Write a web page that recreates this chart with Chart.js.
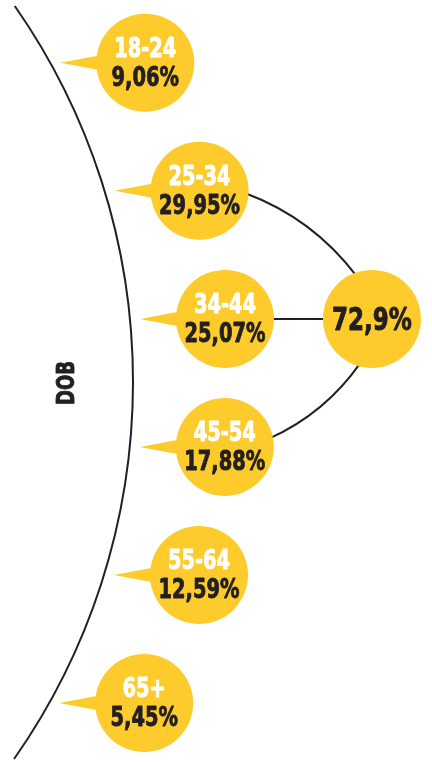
<!DOCTYPE html>
<html>
<head>
<meta charset="utf-8">
<script src="https://cdn.jsdelivr.net/npm/chart.js@4"></script>
<style>
  html, body { margin: 0; padding: 0; background: #fff; }
  #wrap { width: 432px; height: 762px; }
</style>
</head>
<body>
<div id="wrap"><canvas id="chart_dob" width="432" height="762"></canvas></div>
<script>
var age_groups = ['18-24', '25-34', '34-44', '45-54', '55-64', '65+'];
var shares = [9.06, 29.95, 25.07, 17.88, 12.59, 5.45];
var grouped = ['25-34', '34-44', '45-54'];
var axis_title = 'DOB';

var yellow = '#fdcc2c';
var ink = '#231f20';
var font_family = "'DejaVu Sans Condensed', 'DejaVu Sans', sans-serif";
var squeeze = 0.8;   // the original face is a narrow one
var bubble_r = 49;
var y_min = -0.49, y_max = 5.46;
var W = 432, H = 762;
// the big left arc, in pixels
var big_arc = { cx: -524, cy: 382, r: 657 };
var indent = 95;

function fmt(v) {
  return parseFloat(v.toFixed(2)).toString().replace('.', ',') + '%';
}

function arc_x(py) {
  var dy = py - big_arc.cy;
  return big_arc.cx + Math.sqrt(big_arc.r * big_arc.r - dy * dy);
}

function index_to_px(i) {
  return (i - y_min) / (y_max - y_min) * H;
}

var points = age_groups.map(function (g, i) {
  return { x: arc_x(index_to_px(i)) + indent, y: i, r: bubble_r };
});

var group_idx = grouped.map(function (g) { return age_groups.indexOf(g); });
var total = 0;
group_idx.forEach(function (i) { total += shares[i]; });
var mid = group_idx[1];
var total_point = { x: points[mid].x + 147, y: mid, r: bubble_r };

function bezier(ctx, p0, p2, sag, sign) {
  var dx = p2.x - p0.x, dy = p2.y - p0.y;
  var len = Math.sqrt(dx * dx + dy * dy);
  var nx = sign * dy / len, ny = -sign * dx / len;
  var cx = (p0.x + p2.x) / 2 + 2 * sag * nx;
  var cy = (p0.y + p2.y) / 2 + 2 * sag * ny;
  ctx.beginPath();
  ctx.moveTo(p0.x, p0.y);
  ctx.quadraticCurveTo(cx, cy, p2.x, p2.y);
  ctx.stroke();
}

function on_circle(el, deg, r) {
  var a = deg * Math.PI / 180;
  return { x: el.x + r * Math.cos(a), y: el.y + r * Math.sin(a) };
}

// squeezed and slightly heavier text, closer to the condensed black face
function narrow_text(ctx, txt, x, y) {
  ctx.save();
  ctx.translate(x, y);
  ctx.scale(squeeze, 1);
  ctx.strokeStyle = ctx.fillStyle;
  ctx.lineWidth = 0.9;
  ctx.lineJoin = 'round';
  ctx.fillText(txt, 0, 0);
  ctx.strokeText(txt, 0, 0);
  ctx.restore();
}

var decor = {
  id: 'decor',
  beforeDatasetsDraw: function (chart) {
    var ctx = chart.ctx;
    var els = chart.getDatasetMeta(0).data;
    var tot = chart.getDatasetMeta(1).data[0];
    ctx.save();
    ctx.strokeStyle = ink;
    ctx.lineWidth = 2;

    // big arc on the left
    var a0 = Math.asin((6 - big_arc.cy) / big_arc.r);
    var a1 = Math.asin((759 - big_arc.cy) / big_arc.r);
    ctx.beginPath();
    ctx.arc(big_arc.cx, big_arc.cy, big_arc.r, a0, a1, false);
    ctx.stroke();

    // connectors to the total bubble
    var r_in = bubble_r - 3;
    bezier(ctx, on_circle(els[group_idx[0]], 3, r_in), on_circle(tot, -110, r_in), 10, 1);
    ctx.beginPath();
    ctx.moveTo(els[group_idx[1]].x + r_in, els[group_idx[1]].y);
    ctx.lineTo(tot.x - r_in, tot.y);
    ctx.stroke();
    bezier(ctx, on_circle(els[group_idx[2]], -11, r_in), on_circle(tot, 105, r_in), 8, -1);

    // speech bubble tails
    ctx.fillStyle = yellow;
    els.forEach(function (el) {
      var r = bubble_r;
      ctx.beginPath();
      ctx.moveTo(el.x - r - 36, el.y);
      ctx.lineTo(el.x - r + 12, el.y - 9);
      ctx.lineTo(el.x - r + 12, el.y + 9);
      ctx.closePath();
      ctx.fill();
    });
    ctx.restore();
  },
  afterDatasetsDraw: function (chart) {
    var ctx = chart.ctx;
    var els = chart.getDatasetMeta(0).data;
    var tot = chart.getDatasetMeta(1).data[0];
    ctx.save();
    ctx.textAlign = 'center';
    ctx.textBaseline = 'alphabetic';
    els.forEach(function (el, i) {
      ctx.font = 'bold 27px ' + font_family;
      ctx.fillStyle = '#ffffff';
      narrow_text(ctx, age_groups[i], el.x, el.y - 6);
      ctx.fillStyle = ink;
      narrow_text(ctx, fmt(shares[i]), el.x, el.y + 23);
    });
    ctx.font = 'bold 32px ' + font_family;
    ctx.fillStyle = ink;
    narrow_text(ctx, fmt(total), tot.x, tot.y + 11);

    // vertical axis title
    ctx.translate(67, 383);
    ctx.rotate(-Math.PI / 2);
    ctx.textBaseline = 'middle';
    ctx.font = 'bold 25px ' + font_family;
    narrow_text(ctx, axis_title, 0, 0);
    ctx.restore();
  }
};

var ctx = document.getElementById('chart_dob').getContext('2d');
var chart = new Chart(ctx, {
  type: 'bubble',
  data: {
    datasets: [{
      label: 'Share by age',
      data: points,
      backgroundColor: yellow,
      borderWidth: 0,
      hoverRadius: 0
    }, {
      label: 'Total',
      data: [total_point],
      backgroundColor: yellow,
      borderWidth: 0,
      hoverRadius: 0
    }]
  },
  options: {
    responsive: false,
    animation: false,
    layout: { padding: 0, autoPadding: false },
    plugins: { legend: { display: false }, tooltip: { enabled: false } },
    scales: {
      x: { type: 'linear', min: 0, max: W, display: false },
      y: { type: 'linear', min: y_min, max: y_max, reverse: true, display: false }
    }
  },
  plugins: [decor]
});
</script>
</body>
</html>
